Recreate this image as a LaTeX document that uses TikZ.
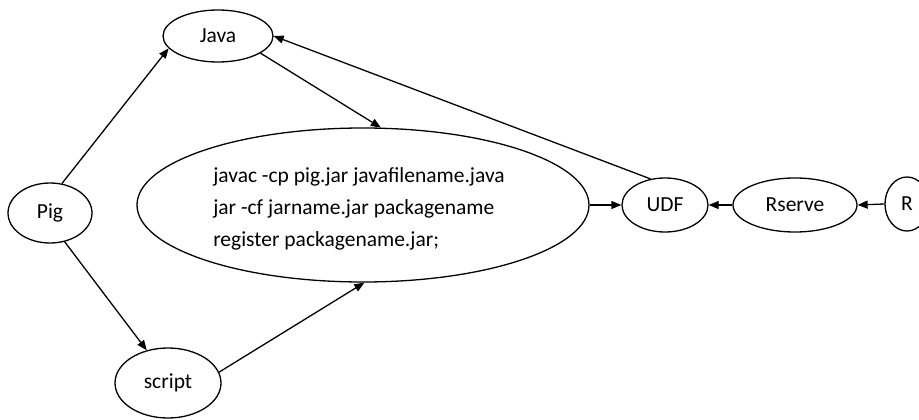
\documentclass[tikz,border=0pt]{standalone}
\usepackage{fontspec}
\setmainfont{Carlito}
\usetikzlibrary{shapes.geometric,arrows.meta}

\begin{document}
\begin{tikzpicture}[x=1pt,y=-1pt,
  oval/.style={ellipse,draw,line width=1.3pt,inner sep=0pt,
    font=\fontsize{21.5}{32}\selectfont},
  link/.style={line width=1.3pt,-{Triangle[length=10pt,width=8pt]}}]
  \useasboundingbox[fill=white] (0,0) rectangle (919,420);

  % nodes of the flow
  \node[oval,minimum width=110pt,minimum height=52pt] (java) at (218,36) {Java};
  \node[oval,minimum width=84pt,minimum height=60pt] (pig) at (50,213) {Pig};
  \node[oval,minimum width=106pt,minimum height=70pt] (script) at (168,383) {script};
  \node[oval,minimum width=452pt,minimum height=154pt] (cmd) at (363,205) {};
  \node[font=\fontsize{21.5}{32}\selectfont,align=left,inner sep=0pt] (cmdtext) at (359,209)
    {javac -cp pig.jar javafilename.java\\
     jar -cf jarname.jar packagename\\
     register packagename.jar;};
  \node[oval,minimum width=86pt,minimum height=54pt] (udf) at (665,205) {UDF};
  \node[oval,minimum width=124pt,minimum height=54pt] (rserve) at (795,205) {Rserve};
  \node[oval,minimum width=44pt,minimum height=54pt] (r) at (907,204) {R};

  % connectors
  \draw[link] (pig.68) -- (java.194);
  \draw[link] (pig.-63) -- (script.123);
  \draw[link] (java.-22) -- (cmd.77);
  \draw[link] (script.12) -- (cmd.-89);
  \draw[link] (udf.119) -- (java.east);
  \draw[link] (cmd.east) -- (udf.west);
  \draw[link] (rserve.west) -- (udf.east);
  \draw[link] (r.west) -- (rserve.east);
\end{tikzpicture}
\end{document}
